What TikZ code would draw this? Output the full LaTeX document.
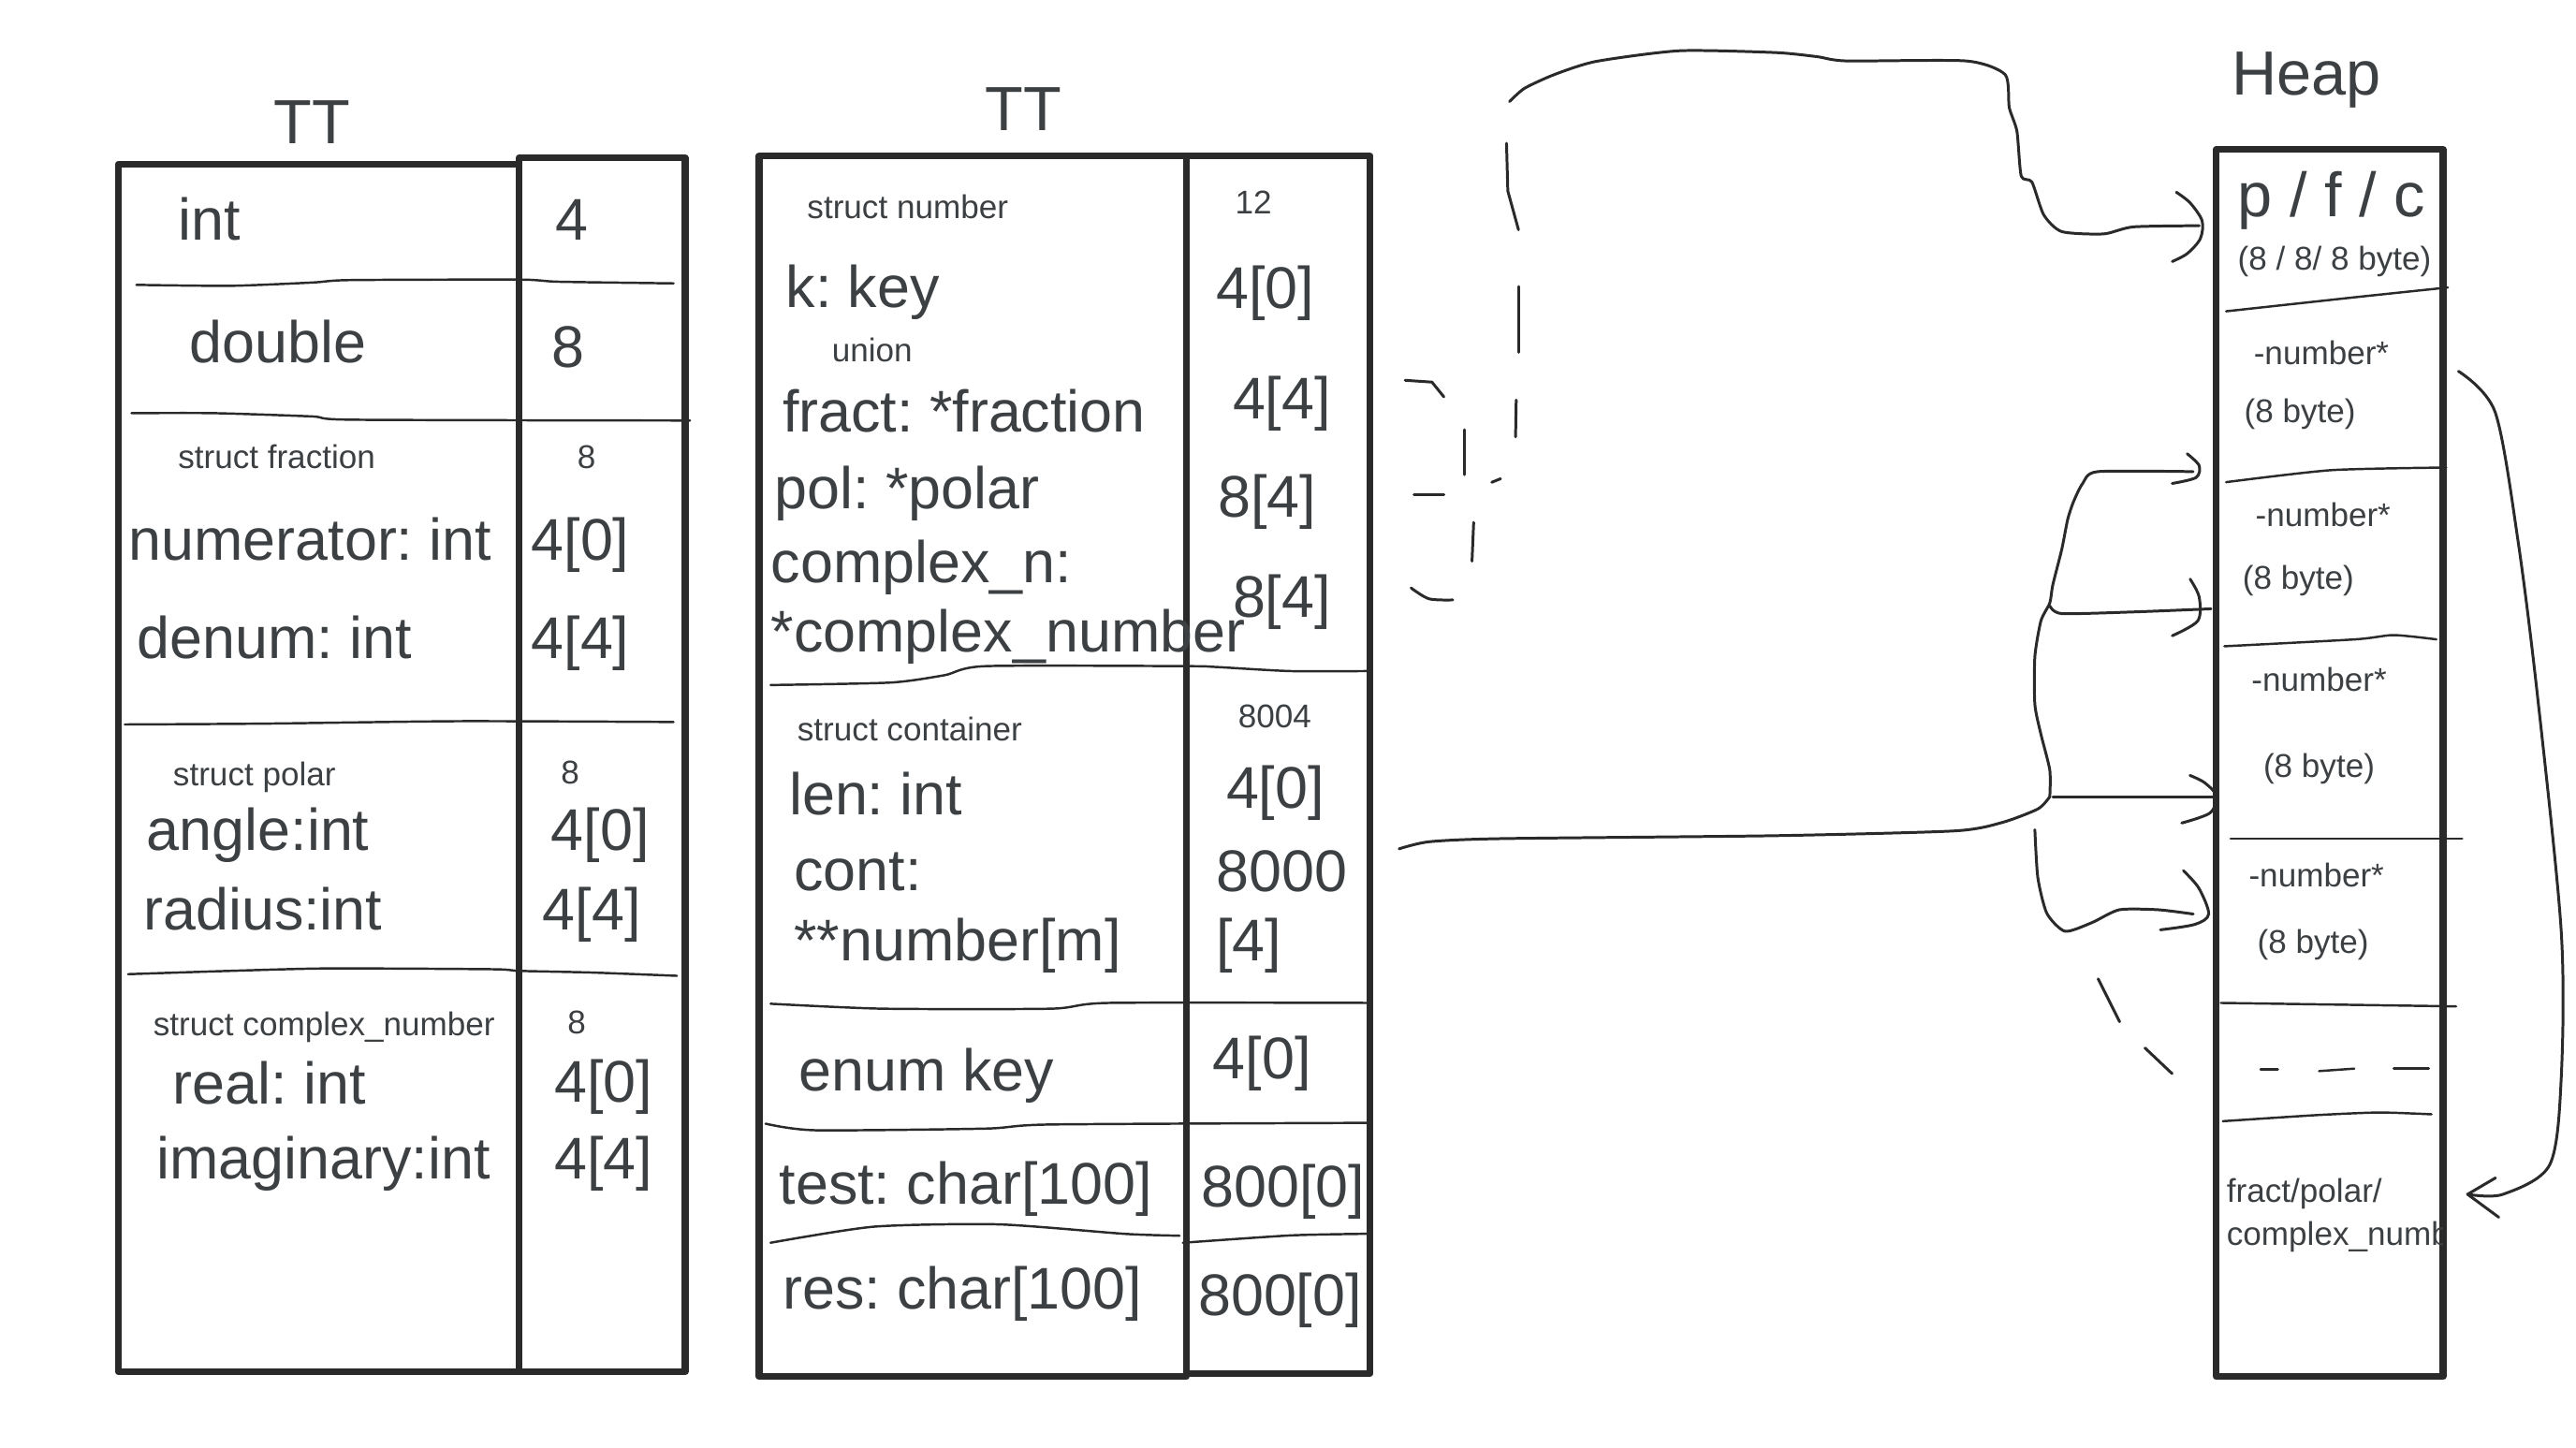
\documentclass[tikz,border=0pt]{standalone}
\usepackage{fontspec}
\setmainfont{Liberation Sans}
\frenchspacing
\definecolor{ink}{HTML}{2A2A2A}
\definecolor{txt}{HTML}{3C4043}
\begin{document}
\begin{tikzpicture}[x=0.5pt,y=-0.5pt,
  big/.style={font=\fontsize{17.9}{20}\selectfont, text=txt, inner sep=0pt, text height=12.9pt, text depth=0pt},
  sml/.style={font=\fontsize{10}{12}\selectfont, text=txt, inner sep=0pt, text height=7.2pt, text depth=0pt},
  ttl/.style={font=\fontsize{19}{22}\selectfont, text=txt, inner sep=0pt, text height=13.7pt, text depth=0pt},
  frame/.style={draw=ink, line width=2.1pt, line join=round},
  sep/.style={draw=ink, line width=0.7pt, line cap=round, line join=round},
  hand/.style={draw=ink, line width=0.85pt, line cap=round, line join=round}]
\useasboundingbox (0,0) rectangle (1568,881);
\fill[white] (0,0) rectangle (1568,881);

% ---------------- left table ----------------
\node[ttl] (ttL) at (190,74) {TT};
\draw[frame] (72,100) rectangle (316,835);
\draw[frame] (316,96) rectangle (417,835);
\draw[sep] plot[smooth,tension=0.4] coordinates {(83,173.4) (140,174) (190,172) (213,170.5) (316,170.2) (340,171.5) (410,172.5)};
\draw[sep] plot[smooth,tension=0.4] coordinates {(80,251.5) (130,251.5) (190,253.5) (215,255.5) (420,256)};
\draw[sep] plot[smooth,tension=0.4] coordinates {(76,441) (160,440.5) (280,439) (410,439.5)};
\draw[sep] plot[smooth,tension=0.4] coordinates {(78,593) (140,591) (200,589.5) (300,590) (316,591) (360,592) (412,594)};

\node[big,anchor=west] (tA) at (108,133) {int};
\node[big] (vA) at (348,133) {4};
\node[big,anchor=west] (tB) at (115,208) {double};
\node[big] (vB) at (346,211) {8};
\node[sml,anchor=west] (tC) at (108,278) {struct fraction};
\node[sml] (vC) at (357,278) {8};
\node[big,anchor=west] (tD) at (78,328) {numerator: int};
\node[big,anchor=west] (vD) at (323,328) {4[0]};
\node[big,anchor=west] (tE) at (83,388) {denum: int};
\node[big,anchor=west] (vE) at (323,388) {4[4]};
\node[sml,anchor=west] (tF) at (105,471) {struct polar};
\node[sml] (vF) at (347,470) {8};
\node[big,anchor=west] (tG) at (89,505) {angle:int};
\node[big,anchor=west] (vG) at (335,505) {4[0]};
\node[big,anchor=west] (tH) at (87,553) {radius:int};
\node[big,anchor=west] (vH) at (330,553) {4[4]};
\node[sml,anchor=west] (tI) at (93,623) {struct complex\_number};
\node[sml] (vI) at (351,622) {8};
\node[big,anchor=west] (tJ) at (105,659) {real: int};
\node[big,anchor=west] (vJ) at (337,658) {4[0]};
\node[big,anchor=west] (tK) at (95,705) {imaginary:int};
\node[big,anchor=west] (vK) at (337,705) {4[4]};

% ---------------- middle table ----------------
\node[ttl] (ttM) at (623,66) {TT};
\draw[frame] (462,95) rectangle (722,838);
\draw[frame] (722,95) rectangle (834,836);
\draw[sep] plot[smooth,tension=0.4] coordinates {(469,417) (542,415.5) (575,411) (600,405.5) (722,405.5) (740,406) (785,408.5) (832,408.5)};
\draw[sep] plot[smooth,tension=0.4] coordinates {(469,611) (537,614) (640,614) (675,610.5) (832,610.5)};
\draw[sep] plot[smooth,tension=0.4] coordinates {(466,684) (496,688) (600,687) (640,684.5) (835,683.5)};
\draw[sep] plot[smooth,tension=0.4] coordinates {(469,756.5) (532,746.7) (608,745.3) (685,751.1) (718,752.2)};
\draw[sep] plot[smooth,tension=0.4] coordinates {(720,756.5) (786,752) (835,751)};

\node[sml,anchor=west] (m1) at (491,126) {struct number};
\node[sml] (w1) at (763,123) {12};
\node[big,anchor=west] (m2) at (478,174) {k: key};
\node[big,anchor=west] (w2) at (740,175) {4[0]};
\node[sml,anchor=west] (m3) at (506,213) {union};
\node[big,anchor=west] (m4) at (476,250) {fract: *fraction};
\node[big,anchor=west] (w4) at (750,242) {4[4]};
\node[big,anchor=west] (m5) at (471,297) {pol: *polar};
\node[big,anchor=west] (w5) at (741,302) {8[4]};
\node[big,anchor=west] (m6) at (469,342) {complex\_n:};
\node[big,anchor=west] (w6) at (750,363) {8[4]};
\node[big,anchor=west] (m7) at (469,384) {*complex\_number};
\node[sml,anchor=west] (m8) at (485,444) {struct container};
\node[sml] (w8) at (776,436) {8004};
\node[big,anchor=west] (m9) at (480,483) {len: int};
\node[big,anchor=west] (w9) at (746,479) {4[0]};
\node[big,anchor=west] (m10) at (483,529) {cont:};
\node[big,anchor=west] (w10) at (740,530) {8000};
\node[big,anchor=west] (m11) at (483,572) {**number[m]};
\node[big,anchor=west] (w11) at (740,572) {[4]};
\node[big,anchor=west] (m12) at (486,651) {enum key};
\node[big,anchor=west] (w12) at (738,644) {4[0]};
\node[big,anchor=west] (m13) at (474,720) {test: char[100]};
\node[big,anchor=west] (w13) at (731,722) {800[0]};
\node[big,anchor=west] (m14) at (476,784) {res: char[100]};
\node[big,anchor=west] (w14) at (729,788) {800[0]};

% ---------------- heap ----------------
\node[ttl] (heapT) at (1404,44) {Heap};
\draw[frame] (1349,91) rectangle (1487,838);
\draw[sep] plot[smooth,tension=0.4] coordinates {(1355,189.5) (1433,181) (1490,175)};
\draw[sep] plot[smooth,tension=0.4] coordinates {(1355,293.5) (1419,286.2) (1489,284.6)};
\draw[sep] plot[smooth,tension=0.4] coordinates {(1354,393.4) (1433.5,389.2) (1457,386.6) (1483,389.2)};
\draw[sep] (1357.7,510.6) -- (1498.7,510.6);
\draw[sep] (1351.8,610.5) -- (1495,612.6);
\draw[sep] (1376,651) -- (1386.5,651);
\draw[sep] (1411.6,652) -- (1433,650.5);
\draw[sep] (1457,650.5) -- (1478.4,650.5);
\draw[sep] plot[smooth,tension=0.4] coordinates {(1353,682.5) (1410,678.8) (1448,677.2) (1480,678.3)};

\node[ttl] (h0) at (1419,118) {p / f / c};
\node[sml] (h0b) at (1421,157) {(8 / 8/ 8 byte)};
\node[sml] (h1) at (1413,214.7) {-number*};
\node[sml] (h1b) at (1400,250) {(8 byte)};
\node[sml] (h2) at (1414,313.5) {-number*};
\node[sml] (h2b) at (1399,351.3) {(8 byte)};
\node[sml] (h3) at (1411.6,413.4) {-number*};
\node[sml] (h3b) at (1411.6,466) {(8 byte)};
\node[sml] (h4) at (1410,532.7) {-number*};
\node[sml] (h4b) at (1408,573) {(8 byte)};
\node[sml,anchor=west] (h5) at (1355,724.6) {fract/polar/};
\begin{scope}
\clip (1349,91) rectangle (1487,838);
\node[sml,anchor=west] (h5b) at (1355,750.9) {complex\_numb};
\end{scope}

% ---------------- connectors ----------------
\coordinate (topS) at (918.9,61.8);
\coordinate (topE) at (1338.6,137.4);
\draw[hand] plot[smooth,tension=0.4] coordinates {(topS) (927.9,53.8) (946.1,45.4) (971.5,37.4) (1022.4,30.9) (1080.6,32) (1106,34.5) (1124.2,37.1) (1196.8,37.1) (1220.5,45.4) (1223,65.4) (1227.7,80) (1230.3,107.2) (1236.8,110.8) (1244,130.8) (1255,141) (1280.4,142.4) (1298.6,138.1) (topE)};
\draw[hand] plot[smooth,tension=0.5] coordinates {(1324.7,117) (1333.1,123.5) (1340.4,134.4) (1339.3,145.3) (1331.3,154.4) (1322.2,159.2)};

% dashed vertical stroke
\draw[hand] (917,87.2) -- (917.8,116.3) -- (924.3,139.9);
\draw[hand] (924.3,174.4) -- (924.3,214.4);
\draw[hand] (922.9,243.5) -- (922.5,266);
\draw[hand] (908,293.6) -- (913.4,291.4);
% dashed bracket
\draw[hand] (855.3,231.5) -- (871.6,232.6) -- (878.9,241.6);
\draw[hand] (891.6,261.6) -- (891.6,288.9);
\draw[hand] (860.7,300.9) -- (878.9,300.9);
\draw[hand] (897,318) -- (896,341.6);
\draw[hand] plot[smooth,tension=0.5] coordinates {(858.9,357.9) (869.8,364.5) (884.3,365.2)};

% container pointer fan
\coordinate (cS) at (851.6,516.7);
\coordinate (cJ) at (1247.7,485);
\draw[hand] plot[smooth,tension=0.4] coordinates {(cS) (869.8,512.4) (913.4,510.5) (1080.6,508.7) (1189.6,505.8) (1218.6,500.7) (1240.5,492.4) (cJ)};
\coordinate (e3) at (1349.5,485);
\draw[hand] (1249.5,485) -- (e3);
\draw[hand] plot[smooth,tension=0.5] coordinates {(1333,472) (1342,476.5) (e3) (1345,495) (1328,501)};

\coordinate (e1) at (1334.9,287.1);
\draw[hand] plot[smooth,tension=0.4] coordinates {(cJ) (1247.7,468.8) (1242.3,447) (1238.6,428.8) (1238.6,399.7) (1242.3,377.9) (1247.7,367) (1249.5,356.1) (1255,334.3) (1258.6,316.1) (1262.2,305.2) (1267.7,294.3) (1276.8,287.1) (e1)};
\draw[hand] plot[smooth,tension=0.5] coordinates {(1331.3,276.2) (1338.6,283.4) (1336.7,290.7) (1322.2,294.3)};

\coordinate (e2) at (1345.8,370.6);
\draw[hand] plot[smooth,tension=0.4] coordinates {(1247.7,368.8) (1255,373.5) (1298.6,372.5) (e2)};
\draw[hand] plot[smooth,tension=0.5] coordinates {(1333.1,352.5) (1338.6,363.4) (1337.8,377.9) (1322.2,387)};

\coordinate (e4) at (1335,556.4);
\draw[hand] plot[smooth,tension=0.4] coordinates {(1238.6,505.1) (1240.4,534.2) (1245.9,556) (1257,566.9) (1273.4,561.6) (1290,553.8) (1313.8,553.8) (e4)};
\draw[hand] plot[smooth,tension=0.5] coordinates {(1329,530) (1338.4,540.6) (1344.4,556.4) (1336,562.7) (1315,566)};

\draw[hand] (1277.1,595.8) -- (1290.2,622);
\draw[hand] (1305.6,637.9) -- (1322.2,653.6);

% right curve to fract/polar
\coordinate (rS) at (1496.4,226);
\coordinate (rE) at (1502,727);
\draw[hand] plot[smooth,tension=0.5] coordinates {(rS) (1518.8,251) (1532.8,330) (1544.7,425) (1559,567) (1559,656) (1552,709) (1523.5,727) (rE)};
\draw[hand] (1519,717) -- (rE) -- (1521,741);
\end{tikzpicture}
\end{document}
